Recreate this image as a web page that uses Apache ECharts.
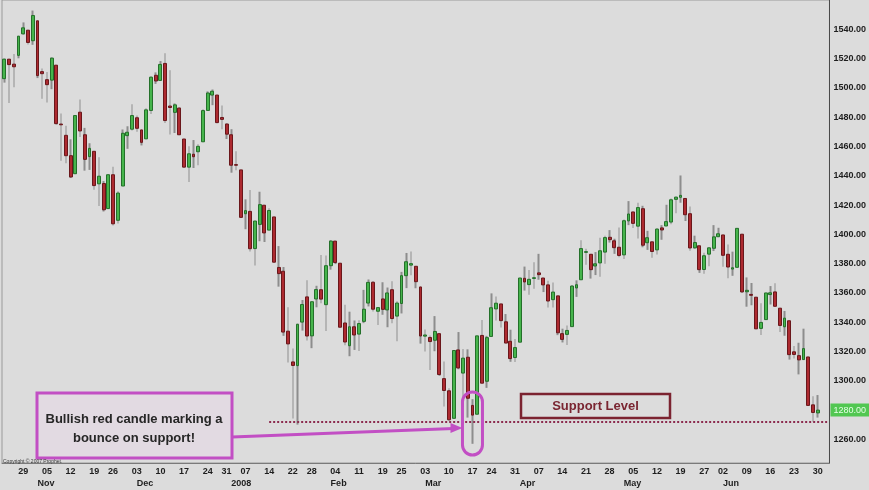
<!DOCTYPE html>
<html>
<head>
<meta charset="utf-8">
<script src="https://cdn.jsdelivr.net/npm/echarts@6/dist/echarts.min.js"></script>
<style>
  html, body { margin: 0; padding: 0; background: #dcdcdc; }
  #chart { width: 869px; height: 490px; }
</style>
</head>
<body>
<div id="chart"></div>
<script>
// S&P 500 daily bars, 23 Oct 2007 – 30 Jun 2008
const dates = [
  '2007-10-23','2007-10-24','2007-10-25','2007-10-26','2007-10-29','2007-10-30','2007-10-31',
  '2007-11-01','2007-11-02','2007-11-05','2007-11-06','2007-11-07','2007-11-08','2007-11-09','2007-11-12','2007-11-13','2007-11-14','2007-11-15','2007-11-16','2007-11-19','2007-11-20','2007-11-21','2007-11-23','2007-11-26','2007-11-27','2007-11-28','2007-11-29','2007-11-30',
  '2007-12-03','2007-12-04','2007-12-05','2007-12-06','2007-12-07','2007-12-10','2007-12-11','2007-12-12','2007-12-13','2007-12-14','2007-12-17','2007-12-18','2007-12-19','2007-12-20','2007-12-21','2007-12-24','2007-12-26','2007-12-27','2007-12-28','2007-12-31',
  '2008-01-02','2008-01-03','2008-01-04','2008-01-07','2008-01-08','2008-01-09','2008-01-10','2008-01-11','2008-01-14','2008-01-15','2008-01-16','2008-01-17','2008-01-18','2008-01-22','2008-01-23','2008-01-24','2008-01-25','2008-01-28','2008-01-29','2008-01-30','2008-01-31',
  '2008-02-01','2008-02-04','2008-02-05','2008-02-06','2008-02-07','2008-02-08','2008-02-11','2008-02-12','2008-02-13','2008-02-14','2008-02-15','2008-02-19','2008-02-20','2008-02-21','2008-02-22','2008-02-25','2008-02-26','2008-02-27','2008-02-28','2008-02-29',
  '2008-03-03','2008-03-04','2008-03-05','2008-03-06','2008-03-07','2008-03-10','2008-03-11','2008-03-12','2008-03-13','2008-03-14','2008-03-17','2008-03-18','2008-03-19','2008-03-20','2008-03-24','2008-03-25','2008-03-26','2008-03-27','2008-03-28','2008-03-31',
  '2008-04-01','2008-04-02','2008-04-03','2008-04-04','2008-04-07','2008-04-08','2008-04-09','2008-04-10','2008-04-11','2008-04-14','2008-04-15','2008-04-16','2008-04-17','2008-04-18','2008-04-21','2008-04-22','2008-04-23','2008-04-24','2008-04-25','2008-04-28','2008-04-29','2008-04-30',
  '2008-05-01','2008-05-02','2008-05-05','2008-05-06','2008-05-07','2008-05-08','2008-05-09','2008-05-12','2008-05-13','2008-05-14','2008-05-15','2008-05-16','2008-05-19','2008-05-20','2008-05-21','2008-05-22','2008-05-23','2008-05-27','2008-05-28','2008-05-29','2008-05-30',
  '2008-06-02','2008-06-03','2008-06-04','2008-06-05','2008-06-06','2008-06-09','2008-06-10','2008-06-11','2008-06-12','2008-06-13','2008-06-16','2008-06-17','2008-06-18','2008-06-19','2008-06-20','2008-06-23','2008-06-24','2008-06-25','2008-06-26','2008-06-27','2008-06-30'
];
// two empty sessions of head-room on the right of the last bar
const trailingDays = ['2008-07-01','2008-07-02'];

const openPx = [
  1506.3,1519.6,1516.2,1522.2,1536.9,1539.4,1532.2,
  1545.8,1511.1,1505.6,1505.3,1515.5,1475.3,1467.6,1453.7,1441.4,1483.4,1468.0,1453.1,1456.7,1434.5,1434.7,1417.6,1440.7,1409.6,1433.0,1467.4,1471.8,
  1479.6,1471.3,1465.2,1484.6,1508.6,1505.1,1516.7,1487.6,1483.3,1486.2,1465.1,1445.9,1454.7,1456.4,1463.2,1484.6,1495.1,1495.1,1479.8,1475.3,
  1468.0,1447.6,1444.0,1414.1,1415.7,1390.3,1406.8,1419.9,1402.9,1411.9,1377.4,1374.8,1333.9,1312.9,1310.4,1340.1,1357.3,1330.7,1355.9,1362.2,1352.0,
  1378.6,1395.4,1380.3,1339.5,1324.0,1336.9,1331.9,1340.6,1353.1,1367.3,1347.5,1355.9,1348.4,1362.2,1344.2,1352.8,1371.8,1379.0,1378.2,1364.1,
  1330.5,1329.6,1327.7,1332.2,1301.5,1293.2,1274.4,1321.1,1305.3,1316.1,1283.2,1277.2,1331.0,1299.7,1330.3,1349.1,1352.5,1340.3,1327.0,1315.9,
  1326.4,1370.0,1365.7,1369.9,1373.7,1370.2,1365.5,1355.4,1358.0,1332.2,1331.7,1337.0,1363.4,1369.0,1387.7,1386.4,1378.4,1380.5,1387.9,1398.0,1395.6,1391.2,
  1386.0,1409.2,1415.3,1405.6,1417.5,1394.3,1394.9,1389.4,1404.4,1405.7,1408.4,1423.9,1425.3,1424.5,1414.1,1390.8,1392.2,1376.0,1386.5,1390.5,1398.4,
  1399.6,1386.4,1376.3,1377.5,1400.1,1360.8,1359.0,1357.1,1335.8,1341.8,1358.9,1360.7,1349.6,1336.9,1341.0,1319.8,1317.2,1314.5,1316.3,1283.6,1278.1
];
const highPx = [
  1520.0,1519.6,1523.2,1535.5,1544.7,1539.4,1552.8,
  1545.8,1513.2,1510.8,1520.8,1515.5,1482.5,1474.1,1464.9,1481.4,1492.1,1472.7,1462.2,1456.7,1452.6,1436.4,1440.9,1446.1,1429.5,1471.6,1473.8,1488.9,
  1481.2,1471.3,1486.1,1508.0,1510.6,1518.3,1523.6,1512.0,1489.4,1486.7,1465.1,1460.2,1464.4,1461.5,1485.4,1497.6,1498.9,1495.1,1488.0,1475.8,
  1471.8,1456.8,1444.0,1423.9,1430.3,1409.2,1429.1,1419.9,1417.9,1411.9,1392.0,1377.7,1350.3,1322.1,1339.0,1355.2,1368.6,1354.0,1364.9,1385.9,1385.6,
  1396.0,1395.4,1380.3,1352.0,1347.2,1341.2,1341.4,1362.1,1369.2,1368.2,1350.0,1367.3,1363.7,1367.9,1354.3,1374.4,1387.3,1388.3,1378.2,1364.1,
  1335.1,1331.0,1344.2,1332.2,1313.2,1295.0,1320.7,1333.3,1321.7,1321.5,1287.5,1330.7,1341.5,1330.7,1359.7,1357.5,1352.5,1345.6,1334.9,1328.5,
  1370.2,1378.0,1375.7,1380.9,1386.7,1370.2,1368.4,1367.2,1358.0,1335.6,1337.7,1365.5,1368.6,1395.9,1390.2,1386.4,1387.9,1397.7,1399.1,1402.9,1397.0,1404.6,
  1410.1,1422.7,1415.3,1421.6,1419.5,1402.4,1394.9,1404.1,1406.3,1420.2,1424.4,1425.8,1440.2,1424.5,1419.1,1399.1,1392.2,1387.4,1391.3,1406.3,1404.5,
  1399.6,1393.1,1388.2,1404.1,1400.1,1370.6,1366.8,1357.1,1353.0,1360.0,1364.7,1366.6,1349.6,1347.7,1341.0,1323.8,1326.0,1335.6,1316.3,1289.5,1290.3
];
const lowPx = [
  1503.6,1489.6,1500.5,1520.2,1536.4,1529.6,1529.4,
  1506.7,1492.5,1490.0,1499.1,1475.0,1450.3,1448.5,1438.5,1441.4,1466.5,1443.5,1444.0,1430.4,1419.3,1415.6,1417.6,1406.1,1407.4,1433.0,1458.4,1470.9,
  1470.1,1460.7,1465.2,1482.2,1502.7,1505.0,1476.0,1468.2,1469.2,1467.8,1445.4,1435.7,1445.3,1447.2,1463.2,1484.6,1488.2,1475.9,1471.7,1465.1,
  1442.1,1443.7,1411.2,1403.5,1388.3,1378.7,1395.3,1394.8,1402.9,1380.6,1364.3,1330.7,1312.5,1274.3,1270.1,1334.3,1327.5,1322.3,1350.2,1353.0,1334.1,
  1375.9,1379.7,1336.6,1324.3,1316.8,1321.1,1320.3,1339.4,1350.8,1347.3,1338.1,1345.1,1336.6,1339.3,1327.0,1346.0,1363.3,1372.0,1363.2,1325.4,
  1320.0,1307.4,1320.2,1303.4,1282.4,1272.7,1274.4,1307.9,1282.1,1274.9,1257.0,1277.2,1298.4,1295.2,1330.3,1341.2,1336.4,1325.7,1313.0,1312.8,
  1326.4,1361.6,1358.7,1362.8,1369.0,1360.6,1350.0,1350.1,1331.2,1326.2,1324.4,1337.0,1357.3,1369.0,1379.3,1369.8,1372.2,1371.1,1380.0,1394.4,1386.7,1384.3,
  1383.1,1406.3,1404.4,1397.1,1391.2,1389.4,1384.1,1386.2,1396.3,1405.7,1406.9,1414.4,1421.6,1409.1,1388.8,1390.2,1373.7,1373.1,1378.2,1388.6,1398.1,
  1377.8,1370.1,1371.7,1377.5,1359.9,1350.6,1351.6,1335.5,1331.3,1341.7,1352.1,1350.5,1333.4,1330.8,1314.5,1315.3,1304.4,1314.5,1283.2,1272.0,1274.9
];
const closePx = [
  1519.6,1515.9,1514.4,1535.3,1541.0,1531.0,1549.4,
  1508.4,1509.7,1502.2,1520.3,1475.6,1474.8,1453.7,1439.2,1481.1,1470.6,1451.2,1458.7,1433.3,1439.7,1416.8,1440.7,1407.2,1428.2,1469.0,1469.7,1481.1,
  1472.4,1462.8,1485.0,1507.3,1504.7,1516.0,1477.7,1486.6,1488.4,1468.0,1445.9,1455.0,1453.0,1460.1,1484.5,1496.5,1497.7,1476.3,1478.5,1468.4,
  1447.2,1447.2,1411.6,1416.2,1390.2,1409.1,1420.3,1401.0,1416.3,1381.0,1373.2,1333.3,1325.2,1310.5,1338.6,1352.1,1330.6,1354.0,1362.3,1355.8,1378.6,
  1395.4,1380.8,1336.6,1326.5,1336.9,1331.3,1339.1,1348.9,1367.2,1348.9,1350.0,1348.8,1360.0,1342.5,1353.1,1371.8,1381.3,1380.0,1367.7,1330.6,
  1331.3,1326.8,1333.7,1304.3,1293.4,1273.4,1320.7,1308.8,1315.5,1288.1,1276.6,1330.7,1298.4,1329.5,1349.9,1353.0,1341.1,1325.8,1315.2,1322.7,
  1370.2,1367.5,1369.3,1370.4,1372.5,1365.5,1354.5,1360.6,1332.8,1328.3,1334.4,1364.7,1365.6,1390.3,1388.2,1375.9,1379.9,1388.8,1397.8,1396.4,1390.9,1385.6,
  1409.3,1413.9,1407.5,1418.3,1392.6,1397.7,1388.3,1403.6,1403.0,1408.7,1423.6,1425.4,1426.6,1413.4,1390.7,1394.4,1375.9,1385.4,1390.8,1398.3,1400.4,
  1385.7,1377.7,1377.2,1404.1,1360.7,1361.8,1358.4,1335.5,1339.9,1360.0,1360.1,1350.9,1337.8,1342.8,1317.9,1318.0,1314.3,1322.0,1283.2,1278.4,1280.0
];

// axis labels
const weekTicks = [
  '2007-10-29','2007-11-05','2007-11-12','2007-11-19','2007-11-26','2007-12-03','2007-12-10','2007-12-17','2007-12-24','2007-12-31',
  '2008-01-07','2008-01-14','2008-01-22','2008-01-28','2008-02-04','2008-02-11','2008-02-19','2008-02-25','2008-03-03','2008-03-10',
  '2008-03-17','2008-03-24','2008-03-31','2008-04-07','2008-04-14','2008-04-21','2008-04-28','2008-05-05','2008-05-12','2008-05-19',
  '2008-05-27','2008-06-02','2008-06-09','2008-06-16','2008-06-23','2008-06-30'
];
const monthTickDates = ['2007-11-01','2007-12-03','2008-01-02','2008-02-01','2008-03-03','2008-04-01','2008-05-01','2008-06-02'];
const monthTickNames = ['Nov','Dec','2008','Feb','Mar','Apr','May','Jun'];
const priceTicks = [1260,1300,1320,1340,1360,1380,1400,1420,1440,1460,1480,1500,1520,1540];

// annotation levels
const supportLevel = 1272;
const supportFrom = '2008-01-14';
const bounceDay = '2008-03-17';
const lastClose = closePx[closePx.length - 1];

const categories = dates.concat(trailingDays);
const wickData = dates.map((d, i) => [lowPx[i], highPx[i], lowPx[i], highPx[i]]);
const bodyData = dates.map((d, i) => [
  openPx[i], closePx[i],
  Math.min(openPx[i], closePx[i]), Math.max(openPx[i], closePx[i])
]);

const FONT = '"Liberation Sans", Arial, sans-serif';
const chart = echarts.init(document.getElementById('chart'), null, { renderer: 'canvas' });

chart.setOption({
  animation: false,
  backgroundColor: '#dcdcdc',
  grid: {
    left: 2, right: 37, top: -1, bottom: 27,
    show: true, backgroundColor: '#dcdcdc', borderColor: '#9a9a9a', borderWidth: 1
  },
  xAxis: [
    {
      type: 'category', data: categories, boundaryGap: true, position: 'bottom',
      axisLine: { show: true, lineStyle: { color: '#7a7a7a', width: 1 } },
      axisTick: { show: false },
      splitLine: { show: false },
      axisLabel: {
        interval: (idx, val) => weekTicks.indexOf(val) >= 0,
        formatter: v => v.slice(8),
        margin: 4, fontSize: 9, fontWeight: 'bold', color: '#1e1e1e', fontFamily: FONT
      }
    },
    {
      type: 'category', data: categories, boundaryGap: true, position: 'bottom', offset: 12,
      axisLine: { show: false }, axisTick: { show: false }, splitLine: { show: false },
      axisLabel: {
        interval: (idx, val) => monthTickDates.indexOf(val) >= 0,
        formatter: v => monthTickNames[monthTickDates.indexOf(v)] || '',
        align: 'left',
        margin: 4, fontSize: 9, fontWeight: 'bold', color: '#1e1e1e', fontFamily: FONT
      }
    }
  ],
  yAxis: {
    type: 'value', position: 'right', min: 1243.9, max: 1560, scale: true,
    splitLine: { show: false },
    axisLine: { show: true, lineStyle: { color: '#4a4a4a', width: 1 } },
    axisTick: { show: false },
    axisLabel: {
      customValues: priceTicks,
      formatter: v => v.toFixed(2),
      margin: 4, fontSize: 9, fontWeight: 'bold', color: '#1e1e1e', fontFamily: FONT
    }
  },
  series: [
    {
      name: 'range', type: 'candlestick', data: wickData, barWidth: 2,
      itemStyle: { color: '#8d8d8d', color0: '#8d8d8d', borderColor: '#8d8d8d', borderColor0: '#8d8d8d', borderWidth: 0 },
      silent: true, z: 2
    },
    {
      name: 'S&P 500', type: 'candlestick', data: bodyData, barWidth: 3.4,
      itemStyle: {
        color: '#46b44c', borderColor: '#24702a',
        color0: '#ad2a30', borderColor0: '#6a171b',
        borderWidth: 1
      },
      z: 3,
      markLine: {
        silent: true, symbol: 'none', animation: false,
        data: [
          [
            { coord: [supportFrom, supportLevel], lineStyle: { color: '#8c2b4e', width: 2, type: [2, 2] }, label: { show: false } },
            { coord: [categories.length - 1, supportLevel] }
          ],
          {
            yAxis: lastClose,
            lineStyle: { color: 'rgba(0,0,0,0)', width: 1, type: 'solid' },
            label: {
              show: true, position: 'end', distance: 1,
              formatter: p => Number(p.value).toFixed(2),
              backgroundColor: '#52c752', color: '#e6ffe6',
              fontSize: 9, fontFamily: FONT, padding: [2, 3, 2, 3]
            }
          }
        ]
      }
    }
  ]
});

// callouts, anchored to the bounce day's bar
const bx = chart.convertToPixel({ gridIndex: 0 }, [bounceDay, supportLevel]);
const cx = bx[0];
const tipX = cx - 10, tipY = 428;

chart.setOption({
  graphic: [
    {
      type: 'rect', z: 100,
      shape: { x: 37, y: 393, width: 195, height: 65 },
      style: { fill: '#e2dae2', stroke: '#c24fc4', lineWidth: 3 }
    },
    {
      type: 'text', z: 101,
      style: {
        text: 'Bullish red candle marking a\nbounce on support!',
        x: 134, y: 429, align: 'center', verticalAlign: 'middle',
        font: 'bold 13px ' + FONT, fill: '#262626', lineHeight: 19
      }
    },
    {
      type: 'polyline', z: 100,
      shape: { points: [[232, 437], [tipX - 9, tipY + 0.4]] },
      style: { stroke: '#c24fc4', lineWidth: 3, fill: null }
    },
    {
      type: 'polygon', z: 100,
      shape: { points: [[tipX, tipY], [tipX - 12, tipY - 5], [tipX - 12, tipY + 5]] },
      style: { fill: '#c24fc4' }
    },
    {
      type: 'rect', z: 100,
      shape: { x: cx - 10, y: 392, width: 20, height: 63, r: 10 },
      style: { fill: null, stroke: '#c24fc4', lineWidth: 3 }
    },
    {
      type: 'rect', z: 100,
      shape: { x: 521, y: 394, width: 149, height: 24 },
      style: { fill: null, stroke: '#7b2330', lineWidth: 2.5 }
    },
    {
      type: 'text', z: 101,
      style: {
        text: 'Support Level', x: 595.5, y: 406.5, align: 'center', verticalAlign: 'middle',
        font: 'bold 13px ' + FONT, fill: '#7a2632'
      }
    },
    {
      type: 'text', z: 101,
      style: {
        text: 'Copyright © 2007 Prophet.', x: 3, y: 462, align: 'left', verticalAlign: 'middle',
        font: '5px ' + FONT, fill: '#3a3a3a'
      }
    }
  ]
});
</script>
</body>
</html>
